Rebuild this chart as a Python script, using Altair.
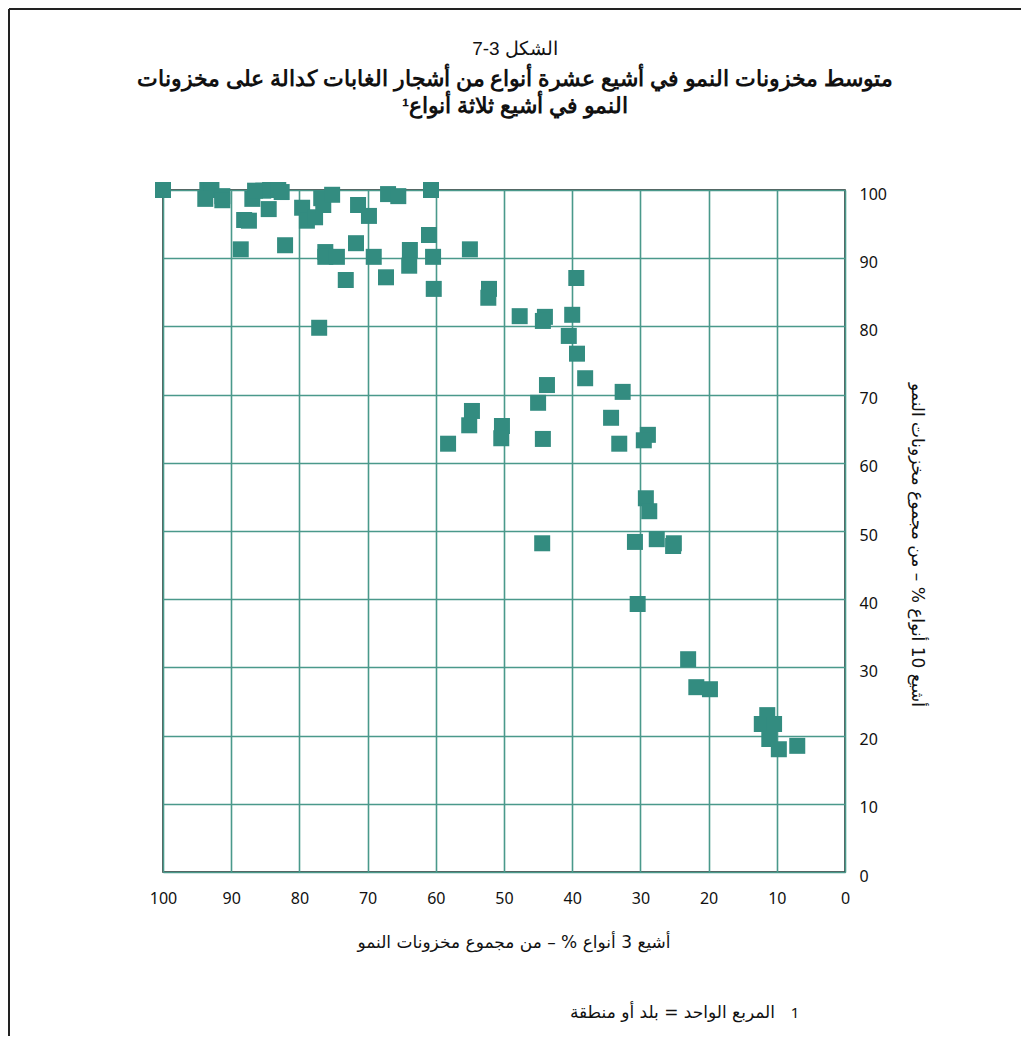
import altair as alt
import pandas as pd

# Data (x = top 3 species %, y = top 10 species %)
top3 = [100, 93.5, 92.9, 93.8, 91.3, 91.3, 88.1, 87.4, 88.6, 86.9,
        86.5, 85.3, 84.3, 83.1, 82.6, 84.5, 82.1, 79.6, 78.9, 77.7,
        76.8, 76.5, 75.2, 76.2, 76.2, 74.5, 73.2, 71.7, 71.4, 69.8,
        69.1, 67.3, 67.0, 65.5, 63.8, 63.9, 61.0, 60.7, 60.4, 60.3,
        55.0, 52.2, 52.3, 77.1, 47.7, 44.0, 44.3, 40.0, 39.4, 40.5,
        39.3, 38.1, 43.7, 45.0, 32.6, 34.3, 33.1, 28.9, 29.5, 54.7,
        55.1, 50.3, 50.4, 44.3, 58.2, 44.4, 30.4, 30.8, 27.6, 25.1,
        25.2, 29.2, 28.7, 23.0, 21.8, 19.8, 11.4, 12.2, 10.4, 11.1,
        9.7, 7.0]
top10 = [100, 100, 100, 98.7, 99.1, 98.5, 95.6, 95.5, 91.3, 98.7,
         99.9, 99.9, 100, 100, 99.7, 97.2, 91.9, 97.4, 95.5, 96.0,
         98.8, 97.8, 99.3, 90.9, 90.2, 90.2, 86.8, 92.2, 97.8, 96.2,
         90.2, 87.2, 99.4, 99.1, 91.2, 88.9, 93.4, 100, 90.2, 85.5,
         91.3, 85.5, 84.2, 79.8, 81.5, 81.4, 80.8, 81.7, 87.1, 78.6,
         76.0, 72.4, 71.4, 68.8, 70.4, 66.6, 62.8, 64.1, 63.3, 67.6,
         65.5, 65.4, 63.6, 63.5, 62.8, 48.2, 39.3, 48.4, 48.8, 48.2,
         47.8, 54.8, 52.9, 31.2, 27.1, 26.8, 23.0, 21.7, 21.7, 19.5,
         18.0, 18.5]

tick_values = [0, 10, 20, 30, 40, 50, 60, 70, 80, 90, 100]

fig_label = "الشكل 3-7"
title_line1 = "متوسط مخزونات النمو في أشيع عشرة أنواع من أشجار الغابات كدالة على مخزونات"
title_line2 = "النمو في أشيع ثلاثة أنواع¹"
x_title = "أشيع 3 أنواع % – من مجموع مخزونات النمو"
y_title = "أشيع 10 أنواع % – من مجموع مخزونات النمو"
footnote_num = "1"
footnote = "المربع الواحد = بلد أو منطقة"

df = pd.DataFrame({"top3": top3, "top10": top10})
one = pd.DataFrame({"a": [0]})

TEAL = "#338C80"
GRID = "#4a998b"
W, H = 682, 682

points = alt.Chart(df).mark_square(size=256, filled=True, opacity=1, color=TEAL).encode(
    x=alt.X("top3:Q",
            scale=alt.Scale(domain=[0, 100], reverse=True, nice=False, zero=False),
            axis=alt.Axis(values=tick_values, grid=True, ticks=False, domain=False,
                          title=None, labelFontSize=16, labelFont="Noto Sans",
                          labelColor="#111", labelPadding=18, labelFlush=False,
                          labelOverlap=False, gridColor=GRID,
                          gridWidth=1.6, orient="bottom")),
    y=alt.Y("top10:Q",
            scale=alt.Scale(domain=[0, 100], nice=False, zero=False),
            axis=alt.Axis(values=tick_values, grid=True, ticks=False, domain=False,
                          title=None, labelFontSize=16, labelFont="Noto Sans",
                          labelColor="#111", labelPadding=14, labelOffset=4,
                          labelFlush=False, labelOverlap=False,
                          labelAlign="left", gridColor=GRID, gridWidth=1.6,
                          orient="right")),
)

def txt(text, x, y, size, bold=False, angle=0, align="center", font="Liberation Sans"):
    kw = dict(text=text, fontSize=size, font=font, align=align, baseline="middle",
              color="#111", fontWeight="bold" if bold else "normal")
    if angle:
        kw["angle"] = angle
    return alt.Chart(one).mark_text(**kw).encode(x=alt.value(x), y=alt.value(y))

labels = [
    txt(fig_label, 352, -141, 19),
    txt(title_line1, 352, -110, 21.5, bold=True),
    txt(title_line2, 352, -83, 21.5, bold=True),
    txt(x_title, 351, 753, 17, font="DejaVu Sans"),
    txt(y_title, 754, 355, 17, angle=90, font="DejaVu Sans"),
    txt(footnote, 612, 823, 17, align="right", font="DejaVu Sans"),
    txt(footnote_num, 632, 823, 15, font="Noto Sans"),
]

border_left = alt.Chart(one).mark_rule(color="#222", strokeWidth=2).encode(
    x=alt.value(-154), y=alt.value(-181), y2=alt.value(846))
border_top = alt.Chart(one).mark_rule(color="#222", strokeWidth=2).encode(
    x=alt.value(-154), x2=alt.value(858), y=alt.value(-181))

chart = alt.layer(points, *labels, border_left, border_top).properties(
    width=W, height=H,
    autosize=alt.AutoSizeParams(type="none"),
    padding={"left": 155, "top": 182, "right": 176, "bottom": 164},
    background="white",
).configure_view(stroke="#222", strokeWidth=1.5)

chart.save("out.html", embed_options={"renderer": "svg", "actions": False})
